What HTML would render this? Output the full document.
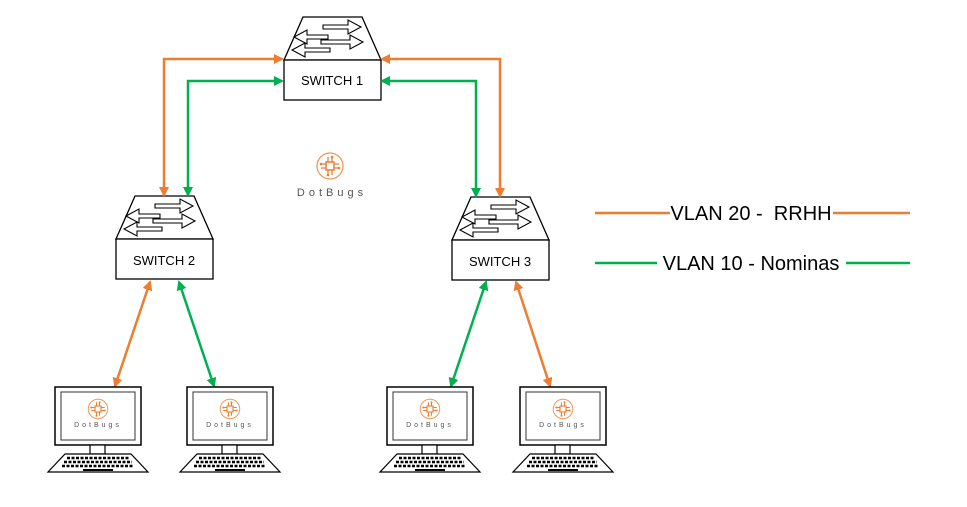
<!DOCTYPE html>
<html><head><meta charset="utf-8"><style>
html,body{margin:0;padding:0;background:#fff;}
svg{display:block;font-family:"Liberation Sans",Calibri,sans-serif;}
</style></head><body>
<svg width="967" height="507" viewBox="0 0 967 507" xmlns="http://www.w3.org/2000/svg">
<defs>
<marker id="ao" markerWidth="10" markerHeight="10" refX="8" refY="5" orient="auto-start-reverse" markerUnits="userSpaceOnUse"><path d="M0,0 L10,5 L0,10 z" fill="#ED7D31"/></marker>
<marker id="ag" markerWidth="10" markerHeight="10" refX="8" refY="5" orient="auto-start-reverse" markerUnits="userSpaceOnUse"><path d="M0,0 L10,5 L0,10 z" fill="#00B050"/></marker>
<g id="sw">
<polygon points="19,0 78,0 97,43 0,43" fill="#fff" stroke="#000" stroke-width="1.3"/>
<g fill="#fff" stroke="#000" stroke-width="1.1">
<polygon points="39,8 64,8 64,3 77,10 64,17 64,12 39,12"/>
<polygon points="37,23 66,23 66,18 79,25 66,32 66,27 37,27"/>
<polygon points="44,18 23,18 23,13 10,20 23,27 23,22 44,22"/>
<polygon points="46,31 21,31 21,26 8,33 21,40 21,35 46,35"/>
</g>
<rect x="0" y="43" width="97" height="40" fill="#fff" stroke="#000" stroke-width="1.3"/>
</g>
<g id="logo">
<circle cx="0" cy="0" r="13" fill="none" stroke="#ED7D31" stroke-width="1.3" opacity="0.8"/>
<rect x="-4" y="-4" width="8" height="8" fill="none" stroke="#ED7D31" stroke-width="1.5"/>
<path d="M-4,-2h-5M-4,2h-5M4,-2h5M4,2h5M-2,-4v-5M2,-4v-5M-2,4v5M2,4v5" stroke="#ED7D31" stroke-width="1.3"/>
<circle cx="-9" cy="-2" r="1.3" fill="#ED7D31"/><circle cx="9" cy="2" r="1.3" fill="#ED7D31"/>
<circle cx="2" cy="-9" r="1.3" fill="#ED7D31"/><circle cx="-2" cy="9" r="1.3" fill="#ED7D31"/>
</g>
<g id="pc">
<rect x="0" y="0" width="86" height="58" fill="#fff" stroke="#000" stroke-width="1.5"/>
<rect x="6" y="5" width="74" height="48" fill="#fff" stroke="#555" stroke-width="1.2"/>
<g transform="translate(43,22) scale(0.75)"><use href="#logo"/></g>
<text x="43" y="40" font-size="7" text-anchor="middle" fill="#555" letter-spacing="3">DotBugs</text>
<rect x="35" y="58" width="15" height="9" fill="#fff" stroke="#000" stroke-width="1.2"/>
<polygon points="10,67 76,67 93,85 -7,85" fill="#fff" stroke="#000" stroke-width="1.2"/>
<g stroke="#000" stroke-width="2.5" stroke-dasharray="3,1.5">
<line x1="12" y1="71" x2="74" y2="71"/>
<line x1="9" y1="75" x2="77" y2="75"/>
<line x1="7" y1="79" x2="79" y2="79"/>
</g>
<line x1="28" y1="83" x2="58" y2="83" stroke="#000" stroke-width="2"/>
</g>
</defs>

<use href="#sw" x="284" y="17"/>
<text x="332" y="85" font-size="13" text-anchor="middle">SWITCH 1</text>
<use href="#sw" x="116" y="196"/>
<text x="164" y="265" font-size="13" text-anchor="middle">SWITCH 2</text>
<use href="#sw" x="452" y="197"/>
<text x="500" y="266" font-size="13" text-anchor="middle">SWITCH 3</text>

<g fill="none" stroke-width="2.5">
<polyline points="164,195 164,59 282,59" stroke="#ED7D31" marker-start="url(#ao)" marker-end="url(#ao)"/>
<polyline points="188,195 188,81 282,81" stroke="#00B050" marker-start="url(#ag)" marker-end="url(#ag)"/>
<polyline points="500,196 500,59 382,59" stroke="#ED7D31" marker-start="url(#ao)" marker-end="url(#ao)"/>
<polyline points="476,196 476,81 382,81" stroke="#00B050" marker-start="url(#ag)" marker-end="url(#ag)"/>
<line x1="150" y1="282" x2="115" y2="386" stroke="#ED7D31" marker-start="url(#ao)" marker-end="url(#ao)"/>
<line x1="179" y1="282" x2="214" y2="386" stroke="#00B050" marker-start="url(#ag)" marker-end="url(#ag)"/>
<line x1="486" y1="282" x2="451" y2="386" stroke="#00B050" marker-start="url(#ag)" marker-end="url(#ag)"/>
<line x1="516" y1="282" x2="550" y2="386" stroke="#ED7D31" marker-start="url(#ao)" marker-end="url(#ao)"/>
</g>

<use href="#logo" x="330" y="166"/>
<text x="332" y="196" font-size="11" text-anchor="middle" fill="#555" letter-spacing="4">DotBugs</text>

<use href="#pc" x="55" y="387"/>
<use href="#pc" x="187" y="387"/>
<use href="#pc" x="387" y="387"/>
<use href="#pc" x="520" y="387"/>

<line x1="595" y1="213" x2="670" y2="213" stroke="#ED7D31" stroke-width="2.5"/>
<line x1="833" y1="213" x2="910" y2="213" stroke="#ED7D31" stroke-width="2.5"/>
<text x="751" y="220" font-size="20" text-anchor="middle" xml:space="preserve">VLAN 20 -  RRHH</text>
<line x1="595" y1="263" x2="657" y2="263" stroke="#00B050" stroke-width="2.5"/>
<line x1="846" y1="263" x2="910" y2="263" stroke="#00B050" stroke-width="2.5"/>
<text x="751" y="270" font-size="20" text-anchor="middle">VLAN 10 - Nominas</text>
</svg>
</body></html>
